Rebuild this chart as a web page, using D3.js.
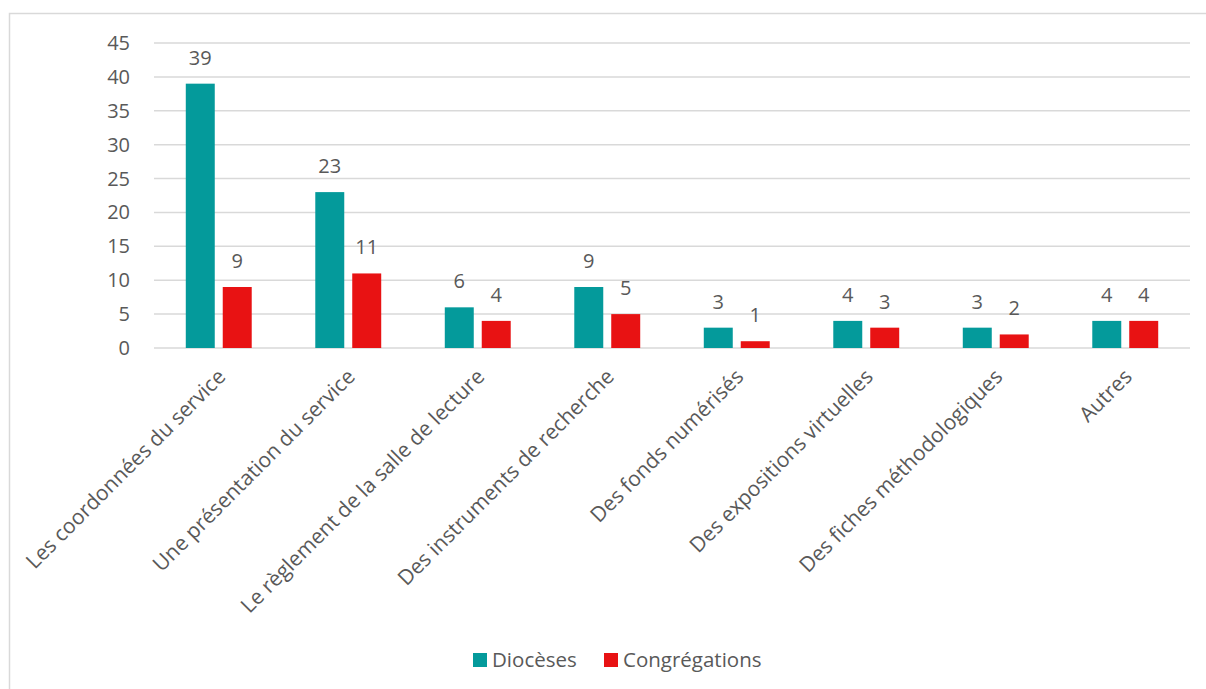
<!DOCTYPE html>
<html>
<head>
<meta charset="utf-8">
<script src="https://cdn.jsdelivr.net/npm/d3@7"></script>
<style>
  body { margin: 0; background: #fff; }
  svg text { font-family: "Open Sans", sans-serif; fill: #595959; }
</style>
</head>
<body>
<div id="chart"></div>
<script>
// data
let categories = ["Les coordonnées du service", "Une présentation du service", "Le règlement de la salle de lecture",
  "Des instruments de recherche", "Des fonds numérisés", "Des expositions virtuelles",
  "Des fiches méthodologiques", "Autres"];
let seriesNames = ["Diocèses", "Congrégations"];
let dioceses = [39, 23, 6, 9, 3, 4, 3, 4];
let congregations = [9, 11, 4, 5, 1, 3, 2, 4];
let yTicks = [0, 5, 10, 15, 20, 25, 30, 35, 40, 45];
let colors = ["#049a9b", "#e81213"];

let width = 1206, height = 689;
let margin = {top: 43, left: 154, right: 16, bottom: 341};

let svg = d3.select("#chart").append("svg").attr("width", width).attr("height", height);

// outer frame
svg.append("rect").attr("x", 9.5).attr("y", 13.5).attr("width", 1205).attr("height", 690)
  .attr("fill", "none").attr("stroke", "#d9d9d9").attr("stroke-width", 1.5);

let x = d3.scaleBand().domain(categories).range([margin.left, width - margin.right]);
let y = d3.scaleLinear().domain([0, 45]).range([height - margin.bottom, margin.top]);
let x1 = d3.scaleBand().domain(seriesNames).range([0, x.bandwidth()]).paddingInner(0.216).paddingOuter(0.86);

// gridlines
svg.append("g").selectAll("line").data(yTicks).enter().append("line")
  .attr("x1", margin.left).attr("x2", width - margin.right)
  .attr("y1", d => y(d)).attr("y2", d => y(d))
  .attr("stroke", "#d9d9d9").attr("stroke-width", 1.5);

// y labels
svg.append("g").selectAll("text").data(yTicks).enter().append("text")
  .attr("x", 130).attr("y", d => y(d)).attr("dy", "0.35em")
  .attr("text-anchor", "end").style("font-size", "20px").text(d => d);

let series = [dioceses, congregations];
series.forEach(function(vals, s){
  let g = svg.append("g");
  g.selectAll("rect").data(vals).enter().append("rect")
    .attr("x", (d, i) => x(categories[i]) + x1(seriesNames[s]))
    .attr("y", d => y(d))
    .attr("width", x1.bandwidth())
    .attr("height", d => y(0) - y(d))
    .attr("fill", colors[s]);
  g.selectAll("text").data(vals).enter().append("text")
    .attr("x", (d, i) => x(categories[i]) + x1(seriesNames[s]) + x1.bandwidth() / 2)
    .attr("y", d => y(d) - 19)
    .attr("text-anchor", "middle").style("font-size", "20px").text(d => d);
});

// category labels, rotated
svg.append("g").selectAll("text").data(categories).enter().append("text")
  .attr("transform", d => "translate(" + (x(d) + x.bandwidth() / 2 + 8) + "," + (y(0) + 30) + ") rotate(-45)")
  .attr("text-anchor", "end").style("font-size", "21px").text(d => d);

// legend
let legend = svg.append("g");
let legendX = [473, 604];
seriesNames.forEach(function(name, i){
  legend.append("rect").attr("x", legendX[i]).attr("y", 653).attr("width", 14).attr("height", 14).attr("fill", colors[i]);
  legend.append("text").attr("x", legendX[i] + 19).attr("y", 660).attr("dy", "0.35em")
    .style("font-size", "20.5px").text(name);
});
</script>
</body>
</html>
